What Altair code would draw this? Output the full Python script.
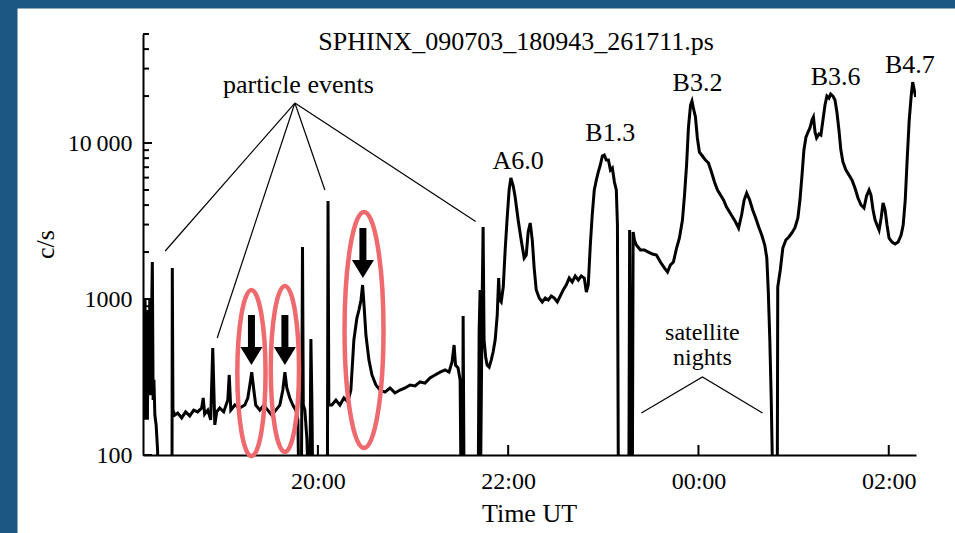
import altair as alt
import pandas as pd
from datetime import datetime, timedelta

# ---------------- data ----------------
# SPHINX count rate; time given as minutes after 2009-07-03 18:00 UT
minutes = [
    9.8, 10.2, 10.6, 11.0, 11.5, 12.0, 12.5, 13.0, 13.5, 14.0, 14.5, 15.0, 15.6, 16.1, 16.6,
    17.2, 18.0, 18.9, 19.6, 28.0, 28.2, 28.6, 29.7, 31.6, 34.1, 36.6, 39.2, 41.7, 44.2, 46.7,
    47.7, 48.6, 50.6, 52.4, 53.7, 55.0, 56.2, 58.1, 60.6, 63.2, 64.1, 65.1, 67.6, 70.7, 73.9,
    75.8, 77.1, 78.3, 79.6, 80.8, 83.4, 85.9, 88.4, 90.9, 93.5, 96.0, 97.9, 99.2, 100.4, 102.3,
    104.2, 106.1, 107.4, 108.0, 109.6, 110.3, 110.8, 111.8, 113.1, 114.0, 114.9, 115.6, 116.2, 116.8, 126.0,
    126.4, 126.9, 128.8, 131.4, 133.9, 136.4, 138.9, 140.8, 142.7, 144.6, 145.9, 147.2, 148.2, 149.1, 150.3,
    152.2, 154.1, 156.6, 159.2, 162.3, 165.5, 168.6, 171.8, 175.0, 178.1, 181.3, 184.4, 187.6, 190.7, 193.9,
    197.1, 200.2, 202.7, 204.6, 205.9, 206.8, 208.4, 209.7, 210.3, 211.3, 211.6, 212.2, 221.1, 221.7, 222.3,
    222.6, 223.6, 224.2, 224.8, 225.8, 226.7, 228.0, 229.3, 230.5, 231.8, 233.1, 234.0, 234.6, 235.6, 236.9,
    238.1, 239.4, 240.6, 241.7, 243.2, 244.4, 246.3, 248.2, 250.1, 251.4, 252.6, 253.9, 255.2, 256.4, 257.7,
    259.6, 261.5, 263.4, 265.3, 267.2, 269.1, 271.0, 272.8, 274.7, 276.6, 278.5, 280.4, 282.3, 284.2, 286.1,
    288.0, 289.3, 290.5, 291.8, 293.0, 294.3, 295.6, 296.8, 298.1, 299.4, 300.6, 301.9, 303.2, 304.5, 305.7,
    307.0, 308.2, 308.9, 309.5, 316.1, 316.6, 317.4, 318.3, 318.8, 319.6, 320.8, 323.4, 325.9, 328.4, 331.0,
    333.5, 336.0, 338.6, 340.5, 342.3, 344.2, 346.2, 348.0, 349.9, 351.2, 352.5, 353.7, 355.0, 355.9, 356.8,
    358.1, 359.3, 360.6, 362.5, 364.4, 366.3, 368.2, 370.1, 372.0, 373.9, 375.8, 377.7, 379.6, 381.5, 383.4,
    385.3, 387.2, 388.8, 390.4, 392.3, 394.2, 396.1, 398.0, 399.9, 401.8, 403.1, 404.0, 405.0, 405.9, 406.9,
    409.7, 410.0, 411.6, 413.2, 415.1, 417.0, 418.9, 420.8, 422.7, 424.0, 425.3, 426.5, 427.8, 429.1, 430.3,
    431.6, 432.5, 433.5, 434.5, 436.0, 437.2, 438.5, 439.8, 441.0, 442.3, 443.4, 444.8, 446.1, 447.3, 448.6,
    449.8, 451.1, 453.0, 454.9, 456.8, 458.7, 460.6, 462.5, 464.4, 466.0, 467.6, 468.8, 470.1, 471.4, 472.6,
    473.9, 475.2, 476.4, 477.7, 478.9, 480.2, 482.1, 484.0, 485.9, 487.8, 489.1, 490.4, 491.6, 492.9, 494.2,
    495.1, 496.1, 497.0,
]
counts = [
    225, 633, 168, 986, 225, 471, 168, 850, 261, 1000, 242, 633, 1727, 225, 303,
    180, 156, 108, 60, 60, 1580, 194, 180, 186, 173, 189, 178, 194, 189, 200,
    232, 183, 194, 168, 485, 156, 189, 200, 189, 225, 326, 194, 209, 200, 209,
    232, 281, 340, 261, 209, 194, 209, 194, 180, 194, 209, 261, 340, 269, 232,
    209, 194, 168, 60, 60, 2154, 209, 194, 125, 60, 60, 554, 225, 60, 60,
    4248, 209, 209, 225, 209, 232, 219, 261, 546, 755, 850, 986, 1230, 915, 588,
    406, 326, 281, 261, 253, 269, 250, 261, 269, 281, 277, 294, 289, 312, 326,
    340, 351, 340, 395, 507, 377, 361, 303, 60, 60, 778, 60, 60, 633, 1142,
    70, 986, 2894, 546, 425, 377, 366, 406, 457, 546, 789, 1363, 986, 957, 1194,
    2061, 3357, 4997, 5966, 5300, 4506, 3208, 2388, 1832, 1915, 2688, 3070, 2388, 1580, 1142,
    1014, 957, 1014, 986, 1045, 1014, 957, 1045, 1142, 1230, 1363, 1285, 1403, 1324, 1403,
    1363, 1109, 1230, 2219, 3455, 4997, 5792, 6515, 7225, 8254, 8377, 7780, 7780, 6713, 6915,
    5623, 4997, 2980, 60, 60, 2768, 60, 60, 2689, 2388, 2219, 2061, 2061, 2000, 1942,
    1915, 1727, 1580, 1489, 1652, 1727, 2123, 2460, 3208, 4642, 7225, 12664, 17520, 18590, 16760,
    14680, 10770, 8750, 8254, 7780, 7447, 6515, 5623, 4997, 4642, 4312, 3890, 3610, 3357, 3118,
    2853, 3455, 4312, 4778, 4312, 3720, 3305, 2894, 2572, 2219, 1832, 1142, 546, 225, 60,
    60, 1194, 1534, 2123, 2388, 2497, 2649, 2853, 3305, 4312, 6233, 9017, 10920, 11770, 12480,
    14030, 14680, 11770, 10770, 11420, 11250, 14030, 17520, 20000, 19400, 20600, 20000, 18870, 15800, 12110,
    9017, 7560, 6713, 6233, 5792, 5150, 4440, 4007, 3830, 4572, 4997, 4642, 3720, 3208, 2980,
    2768, 3305, 4125, 3720, 2980, 2460, 2318, 2252, 2318, 2572, 2980, 4312, 7780, 14030, 20300,
    24600, 21870, 19720,
]

# flare class labels
flare_names = ["A6.0", "B1.3", "B3.2", "B3.6", "B4.7"]
flare_label_min = [246.3, 304.4, 359.4, 446.5, 493.3]
flare_label_cps = [7670, 11590, 24250, 26490, 31620]

# "particle events" label and pointer lines
pe_label_min = [107.7]
pe_label_cps = [23540]
pe_from_min = 105.5
pe_from_cps = 18050
pe_to_min = [23.7, 56.5, 124.4, 219.5]
pe_to_cps = [2031, 562, 4997, 3140]

# "satellite nights" label and bracket
sn_label_min = [362.5, 362.5]
sn_label_cps = [605, 419]
sn_label_txt = ["satellite", "nights"]
sn_v_min = [324.0, 362.5, 400.4]
sn_v_cps = [186, 316, 186]

# highlighted events (ellipses) and arrows
hl_small_min = [78.1, 99.2]
hl_small_cps = [335, 356]
hl_large_min = [149.1]
hl_large_cps = [633]
arrow_min = [78.1, 99.2, 148.4]
arrow_cps = [546, 546, 1972]

# axis ticks
y_major = [100, 1000, 10000]
y_minor = [200, 300, 400, 500, 600, 700, 800, 900,
           2000, 3000, 4000, 5000, 6000, 7000, 8000, 9000,
           20000, 30000, 40000, 50000]
x_tick_min = [120, 240, 360, 480]

TITLE = "SPHINX_090703_180943_261711.ps"

# ---------------- helpers ----------------
BASE = datetime(2009, 7, 3, 18, 0, 0)


def ts(m):
    return (BASE + timedelta(minutes=m)).strftime("%Y-%m-%dT%H:%M:%S")


def dt(m):
    d = BASE + timedelta(minutes=m)
    return alt.DateTime(year=d.year, month=d.month, date=d.day,
                        hours=d.hour, minutes=d.minute, seconds=d.second)


FONT = "Liberation Serif"
BLUE = "#1c5683"
W, H = 773, 421
PAD = {"left": 143, "top": 34, "right": 39, "bottom": 78}

xscale = alt.Scale(domain=[dt(9 + 43 / 60), dt(497 + 11 / 60)])
yscale = alt.Scale(type="log", domain=[100, 50000])

AX_X = alt.Axis(values=[dt(m) for m in x_tick_min], format="%H:%M", title="Time UT",
                tickSize=0, labelPadding=14, titleX=386, titleY=58, titleBaseline="middle")
AX_Y = alt.Axis(values=y_major, title="c/s",
                labelExpr="datum.value == 10000 ? '10\u2009000' : format(datum.value, 'd')",
                tickSize=0, labelPadding=11, titleAngle=270, titleX=-98, titleY=210,
                titleAlign="center", titleBaseline="middle")


def X(field):
    return alt.X(field, scale=xscale, axis=AX_X)


def Y(field):
    return alt.Y(field, scale=yscale, axis=AX_Y)


curve = pd.DataFrame({"t": [ts(m) for m in minutes], "c": counts})

line = alt.Chart(curve).mark_line(color="black", strokeWidth=3, clip=True).encode(
    x=X("t:T"), y=Y("c:Q"))

# blue frame strips (decor): top band and left band
frame_top = alt.Chart(alt.Data(values=[{}])).mark_rect(color=BLUE).encode(
    x=alt.value(-PAD["left"]), x2=alt.value(W + PAD["right"]),
    y=alt.value(-PAD["top"]), y2=alt.value(-25.5))
frame_left = alt.Chart(alt.Data(values=[{}])).mark_rect(color=BLUE).encode(
    x=alt.value(-PAD["left"]), x2=alt.value(-125.5),
    y=alt.value(-PAD["top"]), y2=alt.value(H + PAD["bottom"]))

pe_df = pd.DataFrame({"t1": [ts(pe_from_min)] * len(pe_to_min), "c1": [pe_from_cps] * len(pe_to_min),
                      "t2": [ts(m) for m in pe_to_min], "c2": pe_to_cps})
pointers = alt.Chart(pe_df).mark_rule(color="black", strokeWidth=1.2).encode(
    x=X("t1:T"), x2="t2:T", y=Y("c1:Q"), y2="c2:Q")

sn_df = pd.DataFrame({"t": [ts(m) for m in sn_v_min], "c": sn_v_cps})
night_v = alt.Chart(sn_df).mark_line(color="black", strokeWidth=1.2).encode(
    x=X("t:T"), y=Y("c:Q"))


def ellipse_path(a):
    k = 0.5523
    return (f"M0,-1C{k*a:.4f},-1 {a:.4f},-{k} {a:.4f},0C{a:.4f},{k} {k*a:.4f},1 0,1"
            f"C-{k*a:.4f},1 -{a:.4f},{k} -{a:.4f},0C-{a:.4f},-{k} -{k*a:.4f},-1 0,-1Z")


RED = "#ef6a6e"
ell_small = alt.Chart(pd.DataFrame({"t": [ts(m) for m in hl_small_min], "c": hl_small_cps})).mark_point(
    shape=ellipse_path(0.17), size=166 ** 2, filled=False, stroke=RED, strokeWidth=4.5, opacity=1).encode(
    x=X("t:T"), y=Y("c:Q"))
ell_large = alt.Chart(pd.DataFrame({"t": [ts(m) for m in hl_large_min], "c": hl_large_cps})).mark_point(
    shape=ellipse_path(0.165), size=236 ** 2, filled=False, stroke=RED, strokeWidth=4.5, opacity=1).encode(
    x=X("t:T"), y=Y("c:Q"))

ARROW = "M-0.14,-1L0.14,-1L0.14,0.28L0.44,0.28L0,1L-0.44,0.28L-0.14,0.28Z"
arrows = alt.Chart(pd.DataFrame({"t": [ts(m) for m in arrow_min], "c": arrow_cps})).mark_point(
    shape=ARROW, size=2500, filled=True, color="black", opacity=1, strokeWidth=0).encode(
    x=X("t:T"), y=Y("c:Q"))

txt_df = pd.DataFrame({
    "t": [ts(m) for m in flare_label_min + pe_label_min],
    "c": flare_label_cps + pe_label_cps,
    "s": flare_names + ["particle events"],
})
texts = alt.Chart(txt_df).mark_text(font=FONT, fontSize=26, color="black",
                                    baseline="middle", align="center").encode(
    x=X("t:T"), y=Y("c:Q"), text="s:N")

sn_df2 = pd.DataFrame({"t": [ts(m) for m in sn_label_min], "c": sn_label_cps, "s": sn_label_txt})
sn_texts = alt.Chart(sn_df2).mark_text(font=FONT, fontSize=24, color="black",
                                       baseline="middle", align="center").encode(
    x=X("t:T"), y=Y("c:Q"), text="s:N")

title = alt.Chart(alt.Data(values=[{}])).mark_text(
    text=TITLE, font=FONT, fontSize=26, color="black", baseline="middle", align="center").encode(
    x=alt.value(373), y=alt.value(8))

ymaj = alt.Chart(pd.DataFrame({"c": y_major})).mark_rule(color="black", strokeWidth=2).encode(
    x=alt.value(0), x2=alt.value(9), y=Y("c:Q"))
ymin = alt.Chart(pd.DataFrame({"c": y_minor})).mark_rule(color="black", strokeWidth=2).encode(
    x=alt.value(0), x2=alt.value(6), y=Y("c:Q"))
xtk = alt.Chart(pd.DataFrame({"t": [ts(m) for m in x_tick_min]})).mark_rule(color="black", strokeWidth=2).encode(
    x=X("t:T"), y=alt.value(H - 10), y2=alt.value(H))

chart = alt.layer(line, frame_top, frame_left, pointers, night_v, ell_small, ell_large, arrows,
                  texts, sn_texts, title, ymaj, ymin, xtk).properties(
    width=W, height=H, padding=PAD, autosize=alt.AutoSizeParams(type="none"),
    background="white",
).configure_view(stroke=None).configure_axis(
    grid=False, labelFont=FONT, labelFontSize=24, labelColor="black", labelFlush=False,
    domainColor="black", domainWidth=2, titleFont=FONT, titleFontSize=26,
    titleFontWeight="normal", titleColor="black",
)

chart.save("out.html", embed_options={"renderer": "svg", "actions": False})
